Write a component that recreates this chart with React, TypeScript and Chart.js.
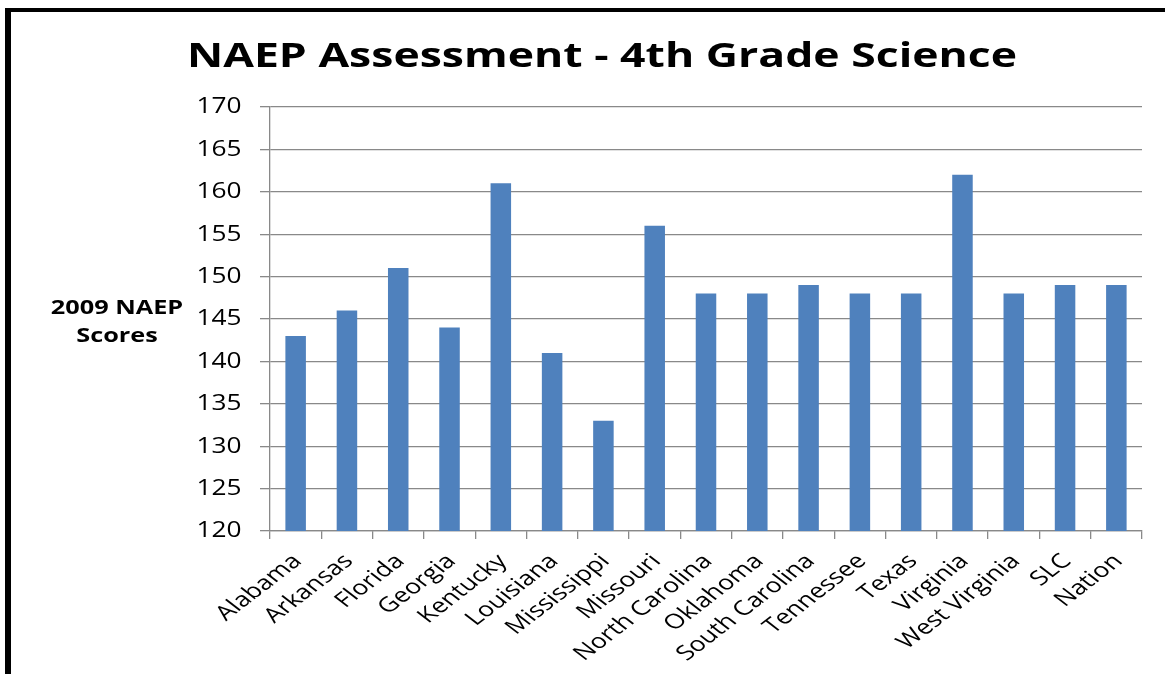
import React, { useEffect, useRef } from "react";
import { Chart, registerables } from "chart.js";

Chart.register(...registerables);

const titleText = "NAEP Assessment - 4th Grade Science";
const yTitleLines = ["2009 NAEP", "Scores"];
const categories = [
  "Alabama",
  "Arkansas",
  "Florida",
  "Georgia",
  "Kentucky",
  "Louisiana",
  "Mississippi",
  "Missouri",
  "North Carolina",
  "Oklahoma",
  "South Carolina",
  "Tennessee",
  "Texas",
  "Virginia",
  "West Virginia",
  "SLC",
  "Nation",
];
const scores = [143, 146, 151, 144, 161, 141, 133, 156, 148, 148, 149, 148, 148, 162, 148, 149, 149];
const yMin = 120;
const yMax = 170;
const yStep = 5;

const W = 1165;
const H = 674;
const FONT = "'Open Sans', 'DejaVu Sans', sans-serif";

function stretchedText(
  ctx: CanvasRenderingContext2D,
  text: string,
  x: number,
  y: number,
  sx: number,
  align: CanvasTextAlign,
  baseline: CanvasTextBaseline,
  rotate = 0
) {
  ctx.save();
  ctx.translate(x, y);
  ctx.scale(sx, 1);
  if (rotate) ctx.rotate(rotate);
  ctx.textAlign = align;
  ctx.textBaseline = baseline;
  ctx.fillText(text, 0, 0);
  ctx.restore();
}

const textPlugin = {
  id: "customText",
  afterDraw(chart: any) {
    const ctx = chart.ctx;
    ctx.save();
    ctx.fillStyle = "#000";
    // title
    ctx.font = `bold 34px ${FONT}`;
    stretchedText(ctx, titleText, 602, 67, 1.31, "center", "alphabetic");
    // y axis title
    ctx.font = `bold 19px ${FONT}`;
    stretchedText(ctx, yTitleLines[0], 117, 314, 1.33, "center", "alphabetic");
    stretchedText(ctx, yTitleLines[1], 117, 341.5, 1.33, "center", "alphabetic");
    // y tick labels
    const ys = chart.scales.y;
    ctx.font = `21px ${FONT}`;
    ys.ticks.forEach((t: any) => {
      const py = ys.getPixelForValue(t.value);
      stretchedText(ctx, String(t.value), 241.5, py + 0.5, 1.25, "right", "middle");
    });
    // x tick labels
    const xs = chart.scales.x;
    ctx.font = `20.5px ${FONT}`;
    categories.forEach((c, i) => {
      const px = xs.getPixelForValue(i);
      stretchedText(ctx, c, px + 2, chart.chartArea.bottom + 27, 1.3, "right", "middle", -Math.PI / 4);
    });
    ctx.restore();
  },
};

export default function App() {
  const ref = useRef<HTMLCanvasElement>(null);
  useEffect(() => {
    if (!ref.current) return;
    const chart = new Chart(ref.current, {
      type: "bar",
      data: {
        labels: categories,
        datasets: [
          {
            data: scores,
            backgroundColor: "#4F81BD",
            borderWidth: 0,
            barPercentage: 0.4,
            categoryPercentage: 1,
          },
        ],
      },
      options: {
        responsive: false,
        animation: false,
        events: [],
        layout: { padding: { top: 107, right: 23, left: 0, bottom: 0 } },
        plugins: {
          legend: { display: false },
          title: { display: false },
          tooltip: { enabled: false },
        },
        scales: {
          x: {
            afterFit(scale: any) {
              scale.height = H - 531;
            },
            grid: {
              display: true,
              drawOnChartArea: false,
              drawTicks: true,
              tickLength: 8,
              color: "#898989",
              lineWidth: 1.3,
            },
            border: { display: true, color: "#898989", width: 1.3 },
            ticks: {
              display: false,
              autoSkip: false,
            },
          },
          y: {
            min: yMin,
            max: yMax,
            afterFit(scale: any) {
              scale.width = 270;
            },
            grid: {
              color: "#898989",
              lineWidth: 1.3,
              tickLength: 10,
            },
            border: { display: true, color: "#898989", width: 1.3 },
            ticks: {
              stepSize: yStep,
              display: false,
            },
          },
        },
      },
      plugins: [textPlugin],
    });
    return () => chart.destroy();
  }, []);

  return (
    <div
      style={{
        position: "fixed",
        left: 0,
        top: 0,
        width: W,
        height: H,
        background: "#fff",
        overflow: "hidden",
      }}
    >
      <div
        style={{
          position: "absolute",
          left: 5,
          top: 8,
          width: W + 20,
          height: H + 20,
          borderTop: "4px solid #000",
          borderLeft: "6px solid #000",
          boxSizing: "border-box",
        }}
      />
      <canvas
        ref={ref}
        width={W}
        height={H}
        style={{ position: "absolute", left: 0, top: 0, width: W, height: H }}
      />
    </div>
  );
}
